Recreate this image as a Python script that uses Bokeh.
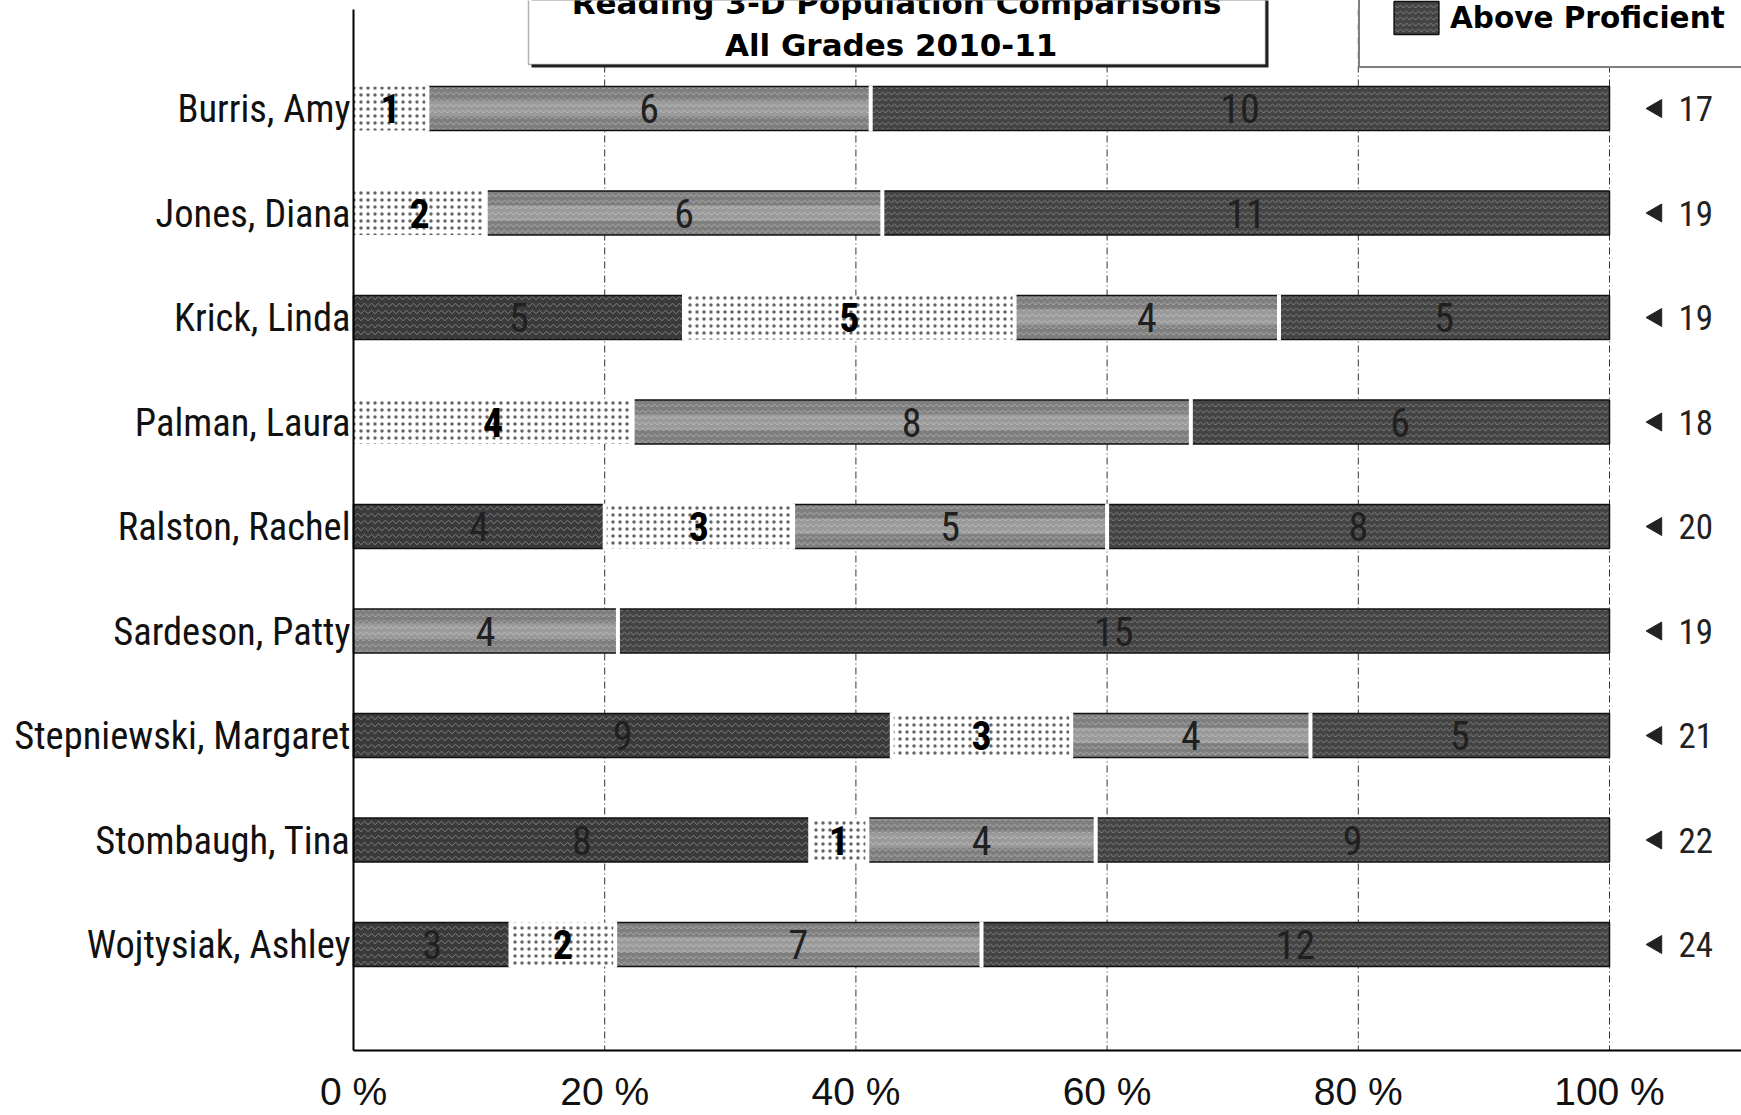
from bokeh.plotting import figure
from bokeh.models import (Range1d, ColumnDataSource, Label, BoxAnnotation,
                          Legend, LegendItem)
from bokeh.core.properties import value
from bokeh.embed import file_html
from bokeh.resources import INLINE

# ---------------- data ----------------
teachers = ["Burris, Amy", "Jones, Diana", "Krick, Linda", "Palman, Laura",
            "Ralston, Rachel", "Sardeson, Patty", "Stepniewski, Margaret",
            "Stombaugh, Tina", "Wojtysiak, Ashley"]
levels = ["Below Basic", "Basic", "Proficient", "Above Proficient"]
below_basic = [0, 0, 5, 0, 4, 0, 9, 8, 3]
basic = [1, 2, 5, 4, 3, 0, 3, 1, 2]
proficient = [6, 6, 4, 8, 5, 4, 4, 4, 7]
above_proficient = [10, 11, 5, 6, 8, 15, 5, 9, 12]
x_ticks = [0, 20, 40, 60, 80, 100]
x_tick_labels = ["0 %", "20 %", "40 %", "60 %", "80 %", "100 %"]
title_lines = ["Reading 3-D Population Comparisons", "All Grades  2010-11"]

series = [below_basic, basic, proficient, above_proficient]
NARROW = "'Roboto Condensed', 'Liberation Sans Narrow', 'DejaVu Sans Condensed', sans-serif"
SANS = "'Liberation Sans', Arial, sans-serif"
WIDE_BOLD = "'DejaVu Sans', Verdana, sans-serif"

# ---------------- layout (pixels) ----------------
W, H = 1741, 1115
X0_PX, X100_PX = 353, 1609  # where 0 % and 100 % fall
ROW0_PX, ROW_STEP = 108, 104.5
AXIS_TOP_PX, AXIS_BOTTOM_PX, TICK_LABEL_PX = 9, 1050, 1091
PX_PER_PCT = (X100_PX - X0_PX) / 100.0
def px_to_y(py):
    return (py - ROW0_PX) / ROW_STEP

# the frame covers the whole canvas; axes are drawn as marks
p = figure(width=W, height=H, output_backend="svg", toolbar_location=None,
           x_range=Range1d(-X0_PX / PX_PER_PCT, (W - X0_PX) / PX_PER_PCT),
           y_range=Range1d(px_to_y(H), px_to_y(0)),
           min_border_left=0, min_border_top=0, min_border_bottom=0, min_border_right=0)
p.outline_line_color = None
p.background_fill_color = "white"
p.xaxis.visible = False
p.yaxis.visible = False
p.xgrid.visible = False
p.ygrid.visible = False

Y_TOP, Y_AXIS, Y_TICKLAB = px_to_y(AXIS_TOP_PX), px_to_y(AXIS_BOTTOM_PX), px_to_y(TICK_LABEL_PX)
ny = len(teachers)
ys = list(range(ny))

# dashed vertical grid lines
gt = x_ticks[1:]
p.segment(x0=gt, x1=gt, y0=[Y_TOP] * len(gt), y1=[Y_AXIS] * len(gt),
          line_color="#333333", line_width=1, line_dash="7 3 1 3")

# ---------------- stacked percentage bars ----------------
totals = [sum(s[i] for s in series) for i in range(ny)]
lefts, rights = [], []
cum = [0.0] * ny
for s in series:
    l = list(cum)
    r = [cum[i] + 100.0 * s[i] / totals[i] for i in range(ny)]
    lefts.append(l)
    rights.append(r)
    cum = r

styles = [
    dict(fill_color="#3a3a3a", line_color="#111111", line_width=1.5,
         hatch_pattern="horizontal_wave", hatch_color="white", hatch_alpha=0.35,
         hatch_scale=7, hatch_weight=1),
    dict(fill_color="#ffffff", line_color=None,
         hatch_pattern="dot", hatch_color="#555555", hatch_alpha=0.9,
         hatch_scale=7, hatch_weight=1.3),
    dict(fill_color="#7e7e7e", line_color="#111111", line_width=1.5,
         hatch_pattern="horizontal_wave", hatch_color="white", hatch_alpha=0.35,
         hatch_scale=6, hatch_weight=1),
    dict(fill_color="#444444", line_color="#111111", line_width=1.5,
         hatch_pattern="horizontal_wave", hatch_color="white", hatch_alpha=0.3,
         hatch_scale=6, hatch_weight=1),
]
BAR_H = 0.42
renderers = []
for k, s in enumerate(series):
    src = ColumnDataSource(dict(
        y=[ys[i] for i in range(ny) if s[i] > 0],
        left=[lefts[k][i] for i in range(ny) if s[i] > 0],
        right=[rights[k][i] for i in range(ny) if s[i] > 0]))
    r = p.hbar(y="y", left="left", right="right", height=BAR_H, source=src, **styles[k])
    renderers.append(r)
    if k == 2:
        # lighter band in the middle of the proficient bars
        p.hbar(y="y", left="left", right="right", height=BAR_H * 0.35, source=src,
               fill_color="white", fill_alpha=0.22, line_color=None)

# white separators between adjacent segments
sx, sy0, sy1 = [], [], []
for i in range(ny):
    for k in range(len(series) - 1):
        if series[k][i] > 0 and any(series[j][i] > 0 for j in range(k + 1, len(series))):
            sx.append(rights[k][i])
            sy0.append(ys[i] - BAR_H / 2 - 0.01)
            sy1.append(ys[i] + BAR_H / 2 + 0.01)
p.segment(x0=sx, x1=sx, y0=sy0, y1=sy1, line_color="white", line_width=4)

# axis lines (left and bottom)
p.segment(x0=[0, 0], x1=[0, p.x_range.end], y0=[Y_TOP, Y_AXIS], y1=[Y_AXIS, Y_AXIS],
          line_color="black", line_width=2)

# category names (left axis labels)
p.text(x=[0] * ny, y=ys, text=teachers, x_offset=-3,
       text_font=value(NARROW), text_font_size="38.5px", text_color="#111111",
       text_align="right", text_baseline="middle")

# x tick labels
p.text(x=x_ticks, y=[Y_TICKLAB] * len(x_ticks), text=x_tick_labels,
       text_font=value(SANS), text_font_size="39px", text_color="#111111",
       text_align="center", text_baseline="middle")

# segment value labels
lx, ly, lt, lc, lw = [], [], [], [], []
for k, s in enumerate(series):
    for i in range(ny):
        if s[i] > 0:
            lx.append((lefts[k][i] + rights[k][i]) / 2)
            ly.append(ys[i])
            lt.append(str(s[i]))
            lc.append("#000000" if k == 1 else "#202020")
            lw.append("bold" if k == 1 else "normal")
p.text(x="x", y="y", text="t", text_color="c", text_font_style="w",
       source=ColumnDataSource(dict(x=lx, y=ly, t=lt, c=lc, w=lw)),
       text_font=value(NARROW), text_font_size="40px",
       text_align="center", text_baseline="middle")

# totals with left-pointing arrows
arrow_x = 100 + 47 / PX_PER_PCT
tsrc = ColumnDataSource(dict(x=[100] * ny, ax=[arrow_x] * ny, y=ys,
                             t=[str(t) for t in totals]))
p.scatter(x="ax", y="y", source=tsrc, marker="triangle", angle=1.5708, size=18,
          fill_color="#222222", line_color="#222222")
p.text(x="x", y="y", text="t", source=tsrc, x_offset=69,
       text_font=value(NARROW), text_font_size="35px", text_color="#222222",
       text_align="left", text_baseline="middle")

# ---------------- title box ----------------
p.add_layout(BoxAnnotation(left=531, right=1268, top=-30, bottom=67,
                           left_units="canvas", right_units="canvas",
                           top_units="canvas", bottom_units="canvas",
                           fill_color="#222222", fill_alpha=1, line_color=None, level="overlay"))
p.add_layout(BoxAnnotation(left=528, right=1265, top=-30, bottom=64,
                           left_units="canvas", right_units="canvas",
                           top_units="canvas", bottom_units="canvas",
                           fill_color="white", fill_alpha=1, line_color="black",
                           line_width=1.5, level="overlay"))
for txt, mid in zip(title_lines, [2, 44]):
    p.add_layout(Label(x=896, y=mid, x_units="canvas", y_units="canvas", text=txt,
                       text_font=WIDE_BOLD, text_font_style="bold", text_font_size="31px",
                       text_color="black", text_align="center",
                       text_baseline="middle", level="overlay"))

# ---------------- legend ----------------
legend = Legend(items=[LegendItem(label=levels[3], renderers=[renderers[3]])],
                location=(1358, H - 68), padding=28, margin=0, spacing=0,
                glyph_width=56, glyph_height=41, label_standoff=6,
                label_text_font=WIDE_BOLD, label_text_font_style="bold",
                label_text_font_size="29.5px", label_text_color="black",
                border_line_color="black", border_line_width=2,
                background_fill_color="white", background_fill_alpha=1)
p.add_layout(legend)

open("out.html", "w").write(file_html(p, INLINE))
